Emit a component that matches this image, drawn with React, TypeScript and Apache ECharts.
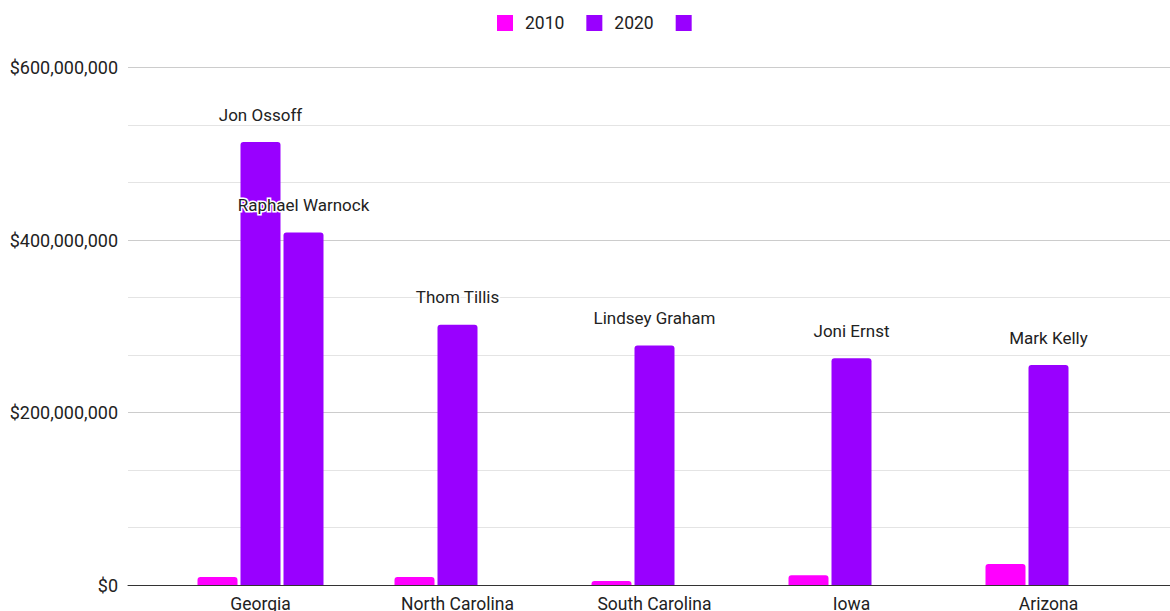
import React, { useEffect, useRef } from "react";
import * as echarts from "echarts";

const categories = ["Georgia", "North Carolina", "South Carolina", "Iowa", "Arizona"];
const values2010 = [9300000, 9300000, 4600000, 11200000, 24400000];
const values2020 = [513500000, 301600000, 277600000, 263000000, 255000000];
const valuesThird = [408700000, null, null, null, null];
const names2020 = ["Jon Ossoff", "Thom Tillis", "Lindsey Graham", "Joni Ernst", "Mark Kelly"];
const namesThird = ["Raphael Warnock", "", "", "", ""];
const seriesNames = ["2010", "2020", " "];
const yMax = 600000000;
const yInterval = 200000000;

const FONT = "Roboto";
const MAGENTA = "#ff00ff";
const PURPLE = "#9900ff";

export default function App() {
  const ref = useRef<HTMLDivElement>(null);
  useEffect(() => {
    if (!ref.current) return;
    const chart = echarts.init(ref.current, null, { renderer: "svg" });
    const labelStyle = {
      show: true,
      position: "top",
      distance: 19,
      fontFamily: FONT,
      fontSize: 17,
      color: "#222",
      textBorderColor: "#fff",
      textBorderWidth: 3,
    };
    chart.setOption({
      animation: false,
      backgroundColor: "#fff",
      textStyle: { fontFamily: FONT },
      legend: {
        top: 9,
        left: 492,
        itemWidth: 16,
        itemHeight: 16,
        itemGap: 22,
        selectedMode: false,
        icon: "rect",
        textStyle: { fontFamily: FONT, fontSize: 17.5, color: "#222", padding: [0, 0, 0, 7] },
        data: seriesNames,
      },
      grid: [
        { left: 128, right: 0, top: 67.5, bottom: 26, containLabel: false, outerBoundsMode: "none" },
        { left: 162, right: 23, top: 67.5, bottom: 26, containLabel: false, outerBoundsMode: "none" },
      ],
      xAxis: [
        {
          type: "value",
          gridIndex: 0,
          min: 0,
          max: 1,
          axisLine: { show: true, lineStyle: { color: "#333", width: 1 } },
          axisTick: { show: false },
          axisLabel: { show: false },
          splitLine: { show: false },
        },
        {
          type: "category",
          gridIndex: 1,
          data: categories,
          axisLine: { show: false },
          axisTick: { show: false },
          axisLabel: { fontFamily: FONT, fontSize: 17.5, color: "#222", margin: 10 },
        },
      ],
      yAxis: [
        {
          type: "value",
          gridIndex: 0,
          min: 0,
          max: yMax,
          interval: yInterval,
          axisLine: { show: false },
          axisTick: { show: false },
          axisLabel: {
            fontFamily: FONT,
            fontSize: 18,
            color: "#222",
            margin: 10,
            formatter: (v: number) => "$" + Math.round(v).toLocaleString("en-US"),
          },
          splitLine: { show: true, lineStyle: { color: "#cccccc", width: 1 } },
          minorTick: { show: false, splitNumber: 3 },
          minorSplitLine: { show: true, lineStyle: { color: "#e4e4e4", width: 1 } },
        },
        {
          type: "value",
          gridIndex: 1,
          min: 0,
          max: yMax,
          show: false,
          splitLine: { show: false },
        },
      ],
      series: [
        {
          name: seriesNames[0],
          type: "bar",
          xAxisIndex: 1,
          yAxisIndex: 1,
          data: values2010,
          barWidth: 40,
          barGap: "7.5%",
          itemStyle: { color: MAGENTA, borderRadius: [3, 3, 0, 0] },
        },
        {
          name: seriesNames[1],
          type: "bar",
          xAxisIndex: 1,
          yAxisIndex: 1,
          data: values2020,
          barWidth: 40,
          barGap: "7.5%",
          itemStyle: { color: PURPLE, borderRadius: [3, 3, 0, 0] },
          label: { ...labelStyle, formatter: (p: any) => names2020[p.dataIndex] },
          z: 2,
        },
        {
          name: seriesNames[2],
          type: "bar",
          xAxisIndex: 1,
          yAxisIndex: 1,
          data: valuesThird,
          barWidth: 40,
          barGap: "7.5%",
          itemStyle: { color: PURPLE, borderRadius: [3, 3, 0, 0] },
          label: { ...labelStyle, formatter: (p: any) => namesThird[p.dataIndex] },
          z: 3,
        },
      ],
    });
    return () => chart.dispose();
  }, []);
  return (
    <div
      ref={ref}
      style={{ position: "absolute", left: 0, top: 0, width: 1170, height: 611 }}
    />
  );
}
